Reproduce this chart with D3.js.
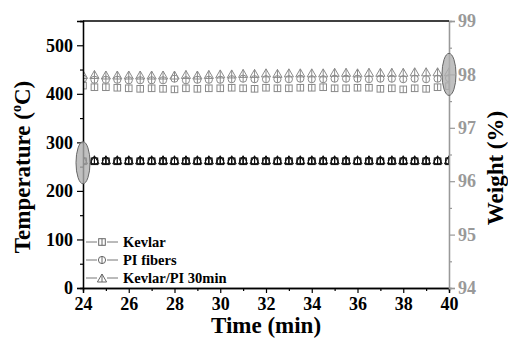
<!DOCTYPE html>
<html><head><meta charset="utf-8">
<script src="https://cdn.jsdelivr.net/npm/d3@7"></script>
<style>
html,body{margin:0;padding:0;background:#fff;}
svg{display:block;font-family:"Liberation Serif","Times New Roman",serif;}
svg text{font-family:"Liberation Serif","Times New Roman",serif !important;font-weight:bold;}
</style></head>
<body>
<svg id="c" width="508" height="342"></svg>
<script>
// ---- data ----
const times = d3.range(0, 33).map(i => 24 + i * 0.5);
const xTicks = [24, 26, 28, 30, 32, 34, 36, 38, 40];
const tempTicks = [0, 100, 200, 300, 400, 500];
const weightTicks = [94, 95, 96, 97, 98, 99];
const seriesNames = ["Kevlar", "PI fibers", "Kevlar/PI 30min"];
// weight (%) – right axis
const kevlarW = [97.79,97.76,97.76,97.75,97.74,97.73,97.74,97.73,97.72,97.74,97.73,97.74,97.74,97.75,97.74,97.73,97.75,97.74,97.74,97.75,97.75,97.76,97.74,97.74,97.75,97.75,97.73,97.74,97.72,97.74,97.73,97.76,97.78];
const piW     = [97.92,97.90,97.90,97.90,97.89,97.89,97.89,97.89,97.92,97.89,97.90,97.90,97.90,97.91,97.92,97.91,97.91,97.91,97.91,97.92,97.91,97.91,97.92,97.92,97.92,97.91,97.92,97.92,97.91,97.92,97.91,97.92,97.93];
const kpW     = [97.98,97.98,97.97,97.97,97.97,97.97,97.97,97.97,97.97,97.98,97.97,97.98,97.99,97.99,98.00,98.00,98.01,98.00,98.01,98.01,98.01,98.01,98.02,98.02,98.01,98.02,98.02,98.02,98.02,98.03,98.03,98.03,98.03];
// temperature (°C) – left axis
const kevlarT = [261,261,261,261,261,261,261,261,261,261,261,261,261,261,261,261,261,261,261,261,261,261,261,261,261,261,261,261,261,261,261,261,261];
const piT     = [262,262,262,262,262,262,262,262,262,262,262,262,262,262,262,262,262,262,262,262,262,262,262,262,262,262,262,262,262,262,262,262,262];
const kpT     = [262,262,262,262,262,262,262,262,262,262,262,262,262,262,262,262,262,262,262,262,262,262,262,262,262,262,262,262,262,262,262,262,262];

// ---- layout ----
const L = 83, R = 449, T = 21, B = 288;
const svg = d3.select("#c");
const x = d3.scaleLinear([24, 40], [L, R]);
const yT = d3.scaleLinear([0, 550], [B, T]);
const yW = d3.scaleLinear([94, 99], [B, T]);
const grey = "#999";
const markGrey = "#8a8a8a";

svg.append("clipPath").attr("id", "clip").append("rect")
  .attr("x", L).attr("y", T).attr("width", R - L).attr("height", B - T);

function marker(g, shape, cx, cy, color) {
  const s = g.append("g").attr("transform", `translate(${cx},${cy})`)
    .attr("fill", "none").attr("stroke", color).attr("stroke-width", 1);
  if (shape === "square") {
    s.append("rect").attr("x", -3.3).attr("y", -3.3).attr("width", 6.6).attr("height", 6.6);
    s.append("line").attr("x1", 0).attr("x2", 0).attr("y1", -3.3).attr("y2", 3.3);
  } else if (shape === "circle") {
    s.append("circle").attr("r", 3.6);
    s.append("line").attr("x1", 0).attr("x2", 0).attr("y1", -3.6).attr("y2", 3.6);
  } else {
    s.append("path").attr("d", "M0,-5 L4.6,3 L-4.6,3 Z");
    s.append("line").attr("x1", 0).attr("x2", 0).attr("y1", -5).attr("y2", 3);
  }
}

const plot = svg.append("g").attr("clip-path", "url(#clip)");
function drawSeries(vals, scale, shape, color) {
  vals.forEach((v, i) => marker(plot, shape, x(times[i]), scale(v), color));
}
drawSeries(kevlarT, yT, "square", "#111");
drawSeries(kpT, yT, "triangle", "#111");
drawSeries(piT, yT, "circle", "#111");
drawSeries(kevlarW, yW, "square", markGrey);
drawSeries(piW, yW, "circle", markGrey);
drawSeries(kpW, yW, "triangle", markGrey);

// ---- axes ----
const font = g => g.attr("font-family", "Liberation Serif, Times New Roman, serif")
  .attr("font-weight", "bold");

const gl = svg.append("g").attr("transform", `translate(${L},0)`);
gl.call(d3.axisLeft(yT).tickValues(d3.range(50, 551, 100)).tickSize(3).tickFormat(""));
gl.append("g").call(d3.axisLeft(yT).tickValues(tempTicks).tickSize(6).tickPadding(4).tickFormat(d3.format("d")));
gl.selectAll(".domain").attr("stroke", "#000").attr("stroke-width", 1.3);
gl.selectAll("line").attr("stroke", "#000").attr("stroke-width", 1.2);
gl.selectAll("text").attr("font-size", 18).attr("fill", "#000").call(font);

const gb = svg.append("g").attr("transform", `translate(0,${B})`);
gb.call(d3.axisBottom(x).tickValues(d3.range(25, 40, 2)).tickSize(3).tickFormat(""));
gb.append("g").call(d3.axisBottom(x).tickValues(xTicks).tickSize(5).tickPadding(4).tickFormat(d3.format("d")));
gb.selectAll(".domain").attr("stroke", "#000").attr("stroke-width", 1.3);
gb.selectAll("line").attr("stroke", "#000").attr("stroke-width", 1.2);
gb.selectAll("text").attr("font-size", 18).attr("fill", "#000").call(font);

const gr = svg.append("g").attr("transform", `translate(${R},0)`);
gr.call(d3.axisRight(yW).tickValues(d3.range(94.5, 99, 1)).tickSize(3).tickFormat(""));
gr.append("g").call(d3.axisRight(yW).tickValues(weightTicks).tickSize(6).tickPadding(3).tickFormat(d3.format("d")));
gr.selectAll(".domain").attr("stroke", grey).attr("stroke-width", 1.3);
gr.selectAll("line").attr("stroke", grey).attr("stroke-width", 1.2);
gr.selectAll("text").attr("font-size", 18).attr("fill", grey).call(font);

svg.append("line").attr("x1", L).attr("x2", R).attr("y1", T).attr("y2", T)
  .attr("stroke", "#000").attr("stroke-width", 1.3);

// ---- ellipses ----
svg.append("ellipse").attr("cx", x(24)).attr("cy", yT(258)).attr("rx", 7).attr("ry", 21)
  .attr("fill", "#b0b0b0").attr("fill-opacity", 0.8).attr("stroke", "#666").attr("stroke-width", 1);
svg.append("ellipse").attr("cx", x(40)).attr("cy", yW(98)).attr("rx", 7).attr("ry", 21)
  .attr("fill", "#b0b0b0").attr("fill-opacity", 0.8).attr("stroke", "#666").attr("stroke-width", 1);

// ---- titles ----
svg.append("text").attr("transform", `translate(30,167) rotate(-90)`)
  .attr("text-anchor", "middle").attr("font-size", 23).call(font)
  .call(t => { t.append("tspan").text("Temperature (");
               t.append("tspan").attr("font-size", 14).attr("dy", -9).text("o");
               t.append("tspan").attr("dy", 9).text("C)"); });
svg.append("text").attr("transform", `translate(503,168) rotate(-90)`)
  .attr("text-anchor", "middle").attr("font-size", 23).call(font).text("Weight (%)");
svg.append("text").attr("x", 266).attr("y", 333)
  .attr("text-anchor", "middle").attr("font-size", 23).call(font).text("Time (min)");

// ---- legend ----
const shapes = ["square", "circle", "triangle"];
const lg = svg.append("g");
seriesNames.forEach((n, i) => {
  const yy = 242 + i * 18;
  lg.append("line").attr("x1", 86).attr("x2", 118).attr("y1", yy).attr("y2", yy)
    .attr("stroke", "#777").attr("stroke-width", 1);
  const m = lg.append("g");
  m.append("rect").attr("x", 97).attr("y", yy - 4).attr("width", 10).attr("height", 8).attr("fill", "#fff");
  marker(m, shapes[i], 102, yy + (shapes[i] === "triangle" ? 1 : 0), "#666");
  lg.append("text").attr("x", 123).attr("y", yy + 5).attr("font-size", 14.5).call(font).text(n);
});
</script>
</body></html>
